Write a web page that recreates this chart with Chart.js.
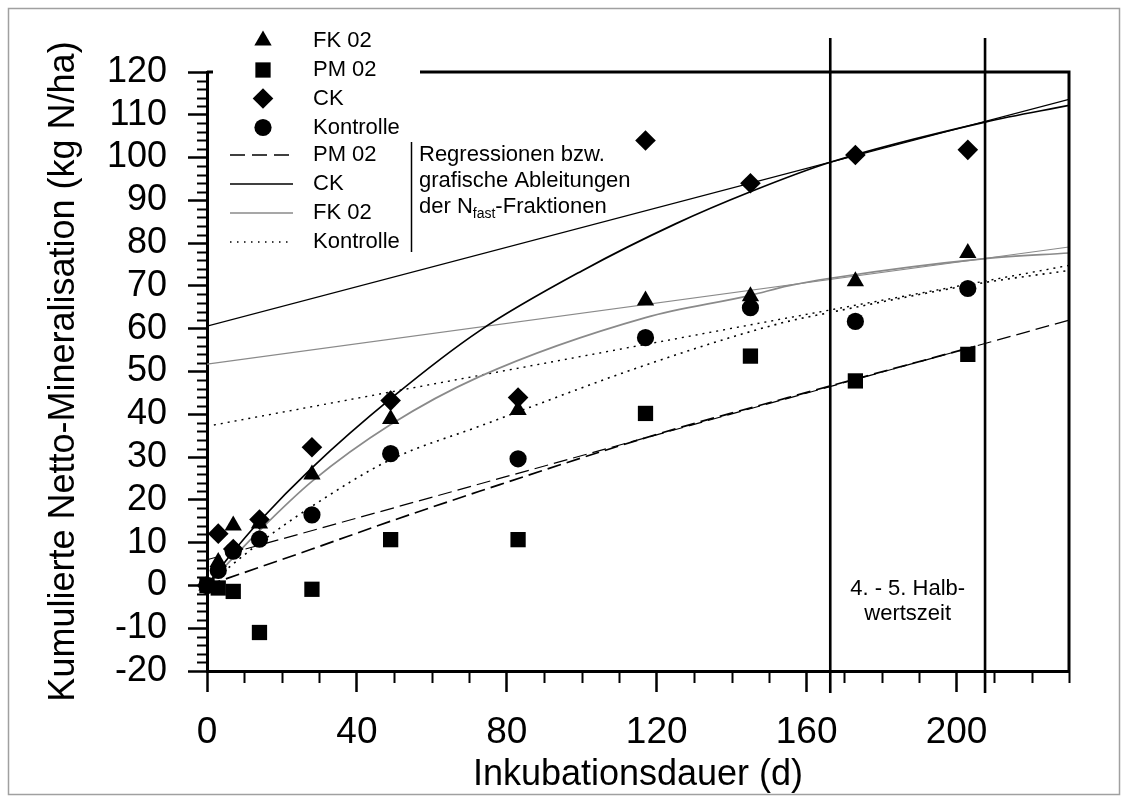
<!DOCTYPE html>
<html><head><meta charset="utf-8">
<script src="https://cdn.jsdelivr.net/npm/chart.js@4.4.1/dist/chart.umd.min.js"></script>
<style>html,body{margin:0;padding:0;background:#fff}canvas{display:block}</style>
</head><body>
<canvas id="c" width="1128" height="803"></canvas>
<script>
// ---- data ----
const days      = [0, 3, 7, 14, 28, 49, 83, 117, 145, 173, 203];
const fk02      = [0, 5.5, 14.0, 14.5, 25.9, 38.9, 41.0, 66.6, 67.6, 71.1, 77.7];
const pm02      = [0, -0.6, -1.4, -11.0, -0.9, 10.7, 10.7, 40.2, 53.6, 47.8, 54.0];
const ck        = [0, 12.1, 8.5, 15.4, 32.3, 43.2, 43.9, 104.0, 94.0, 100.6, 101.8];
const kontrolle = [0, 3.5, 8.0, 10.8, 16.5, 30.8, 29.6, 57.9, 64.9, 61.7, 69.4];

// regression curves
const pmCurveX = [0, 5.6, 28, 49, 72.7, 120, 155, 205];
const pmCurveY = [0, 1.7, 8.5, 15.0, 22.0, 35.3, 43.9, 55.9];
const ckCurveX = [0, 6, 14, 28, 49.5, 72.7, 100, 125, 145, 166.3, 207.6, 230];
const ckCurveY = [0, 6.8, 15.0, 27.5, 44.0, 59.5, 73.5, 84.5, 92.0, 98.9, 108.3, 112.2];
const fkCurveX = [0, 14, 28, 49, 72.7, 117, 145, 155, 166.3, 207.6, 230];
const fkCurveY = [0, 12.8, 24.3, 37.6, 48.8, 62.6, 67.8, 70.0, 71.8, 76.4, 77.7];
const koCurveX = [0, 14, 28, 49, 72.7, 117, 152.7, 166.3, 207.6, 230];
const koCurveY = [0, 9.9, 18.5, 29.4, 37.2, 51.5, 61.2, 63.8, 70.8, 73.6];

// graphical derivation lines (N_fast intercepts)
const lineX   = [0, 230];
const pmLineY = [6.0, 62.0];
const ckLineY = [60.6, 113.6];
const fkLineY = [51.7, 79.1];
const koLineY = [37.2, 74.8];

const halfLifeDays = [166.3, 207.6];
const xTicks = [0, 40, 80, 120, 160, 200];
const yTicks = [-20, -10, 0, 10, 20, 30, 40, 50, 60, 70, 80, 90, 100, 110, 120];
const xMinorStep = 10, yMinorStep = 2;

const FONT = "'Liberation Sans', Arial, Helvetica, sans-serif";
const GRAY = '#8a8a8a';

function pts(xs, ys) { return xs.map((x, i) => ({x: x, y: ys[i]})); }

const markerBase = {showLine: false, backgroundColor: '#000', borderColor: '#000',
  pointBorderWidth: 0, order: 0, clip: false, pointHoverRadius: 0};
const datasets = [
  Object.assign({label: 'CK', data: pts(days, ck), pointStyle: 'rectRot', pointRadius: 10.3}, markerBase),
  Object.assign({label: 'FK 02', data: pts(days, fk02), pointStyle: 'triangle', pointRadius: 10}, markerBase),
  Object.assign({label: 'Kontrolle', data: pts(days, kontrolle), pointStyle: 'circle', pointRadius: 8.6}, markerBase),
  Object.assign({label: 'PM 02', data: pts(days, pm02), pointStyle: 'rect', pointRadius: 10.8}, markerBase),
];
function lineDs(label, xs, ys, color, width, dash, curve) {
  return {label: label, data: pts(xs, ys), showLine: true, pointRadius: 0, pointHoverRadius: 0,
    borderColor: color, backgroundColor: color, borderWidth: width, borderDash: dash,
    cubicInterpolationMode: curve ? 'monotone' : 'default', tension: 0, order: 2, fill: false};
}
datasets.push(
  lineDs('PM 02 Kurve', pmCurveX, pmCurveY, '#000', 1.7, [14, 6], true),
  lineDs('PM 02 Gerade', lineX, pmLineY, '#000', 1.2, [14, 6], false),
  lineDs('CK Kurve', ckCurveX, ckCurveY, '#000', 1.7, [], true),
  lineDs('CK Gerade', lineX, ckLineY, '#000', 1.2, [], false),
  lineDs('FK 02 Kurve', fkCurveX, fkCurveY, GRAY, 1.7, [], true),
  lineDs('FK 02 Gerade', lineX, fkLineY, GRAY, 1.2, [], false),
  lineDs('Kontrolle Kurve', koCurveX, koCurveY, '#000', 1.6, [2, 5], true),
  lineDs('Kontrolle Gerade', lineX, koLineY, '#000', 1.4, [2, 5], false)
);

const deco = {
  id: 'deco',
  beforeDraw(chart) {
    const c = chart.ctx;
    c.save();
    c.fillStyle = '#fff';
    c.fillRect(0, 0, chart.width, chart.height);
    c.strokeStyle = '#a0a0a0';
    c.lineWidth = 1.5;
    c.strokeRect(8.5, 8.5, chart.width - 17, chart.height - 17);
    c.restore();
  },
  afterDraw(chart) {
    const c = chart.ctx, a = chart.chartArea;
    const xs = chart.scales.x, ys = chart.scales.y;
    c.save();
    c.strokeStyle = '#000';
    c.lineCap = 'butt';
    // right axis and partial top frame
    c.lineWidth = 3;
    c.beginPath();
    c.moveTo(a.right, a.top - 1.5); c.lineTo(a.right, a.bottom);
    c.moveTo(420, a.top); c.lineTo(a.right + 1.5, a.top);
    c.moveTo(a.left, a.top); c.lineTo(a.left + 6, a.top);
    c.stroke();
    // minor ticks
    c.lineWidth = 2;
    c.beginPath();
    for (let v = xs.min + xMinorStep; v <= xs.max + 0.001; v += xMinorStep) {
      if (xTicks.indexOf(Math.round(v)) >= 0) continue;
      const px = Math.round(xs.getPixelForValue(v)) + 0.5;
      c.moveTo(px, a.bottom); c.lineTo(px, a.bottom + 12);
    }
    for (let v = ys.min + yMinorStep; v < ys.max; v += yMinorStep) {
      if (yTicks.indexOf(Math.round(v)) >= 0) continue;
      const py = Math.round(ys.getPixelForValue(v)) + 0.5;
      c.moveTo(a.left, py); c.lineTo(a.left - 10, py);
    }
    c.stroke();
    // half-life lines
    c.lineWidth = 2.6;
    c.beginPath();
    halfLifeDays.forEach(d => {
      const px = xs.getPixelForValue(d);
      c.moveTo(px, 38); c.lineTo(px, a.bottom + 22);
    });
    c.stroke();
    const midX = (xs.getPixelForValue(halfLifeDays[0]) + xs.getPixelForValue(halfLifeDays[1])) / 2;
    c.fillStyle = '#000';
    c.font = '22px ' + FONT;
    c.textAlign = 'center';
    c.textBaseline = 'middle';
    c.fillText('4. - 5. Halb-', midX, 589);
    c.fillText('wertszeit', midX, 614);

    // legend
    const H = Chart.helpers;
    const mx = 263, tx = 313;
    const rowsM = [
      {s: 'triangle', r: 10, y: 40.5, t: 'FK 02', ty: 41},
      {s: 'rect', r: 10.8, y: 70, t: 'PM 02', ty: 70},
      {s: 'rectRot', r: 10.3, y: 98.5, t: 'CK', ty: 98.5},
      {s: 'circle', r: 8.6, y: 127.5, t: 'Kontrolle', ty: 127.5}
    ];
    c.textAlign = 'left';
    rowsM.forEach(m => {
      c.fillStyle = '#000';
      H.drawPoint(c, {pointStyle: m.s, radius: m.r, rotation: 0, borderWidth: 0}, mx, m.y);
      c.fillText(m.t, tx, m.ty);
    });
    const rowsL = [
      {t: 'PM 02', y: 155, col: '#000', w: 1.4, dash: [15, 7]},
      {t: 'CK', y: 184, col: '#000', w: 1.4, dash: []},
      {t: 'FK 02', y: 213, col: GRAY, w: 1.4, dash: []},
      {t: 'Kontrolle', y: 242, col: '#000', w: 1.4, dash: [1.5, 5.5]}
    ];
    rowsL.forEach(l => {
      c.save();
      c.strokeStyle = l.col; c.lineWidth = l.w; c.setLineDash(l.dash);
      c.beginPath(); c.moveTo(230, l.y); c.lineTo(293, l.y); c.stroke();
      c.restore();
      c.fillStyle = '#000';
      c.fillText(l.t, tx, l.y);
    });
    // separator + explanation
    c.lineWidth = 1.5;
    c.beginPath(); c.moveTo(411.5, 142); c.lineTo(411.5, 252); c.stroke();
    c.fillText('Regressionen bzw.', 419, 155);
    c.fillText('grafische Ableitungen', 419, 181);
    let x0 = 419;
    c.fillText('der N', x0, 207);
    x0 += c.measureText('der N').width;
    c.font = '14px ' + FONT;
    c.fillText('fast', x0, 214);
    x0 += c.measureText('fast').width;
    c.font = '22px ' + FONT;
    c.fillText('-Fraktionen', x0, 207);
    c.restore();
  }
};

new Chart(document.getElementById('c'), {
  type: 'scatter',
  data: {datasets: datasets},
  options: {
    responsive: false,
    animation: false,
    devicePixelRatio: 1,
    layout: {padding: {top: 72, right: 59, left: 0, bottom: 0}},
    plugins: {legend: {display: false}, tooltip: {enabled: false}},
    events: [],
    scales: {
      x: {
        type: 'linear', min: 0, max: 230,
        afterBuildTicks: s => { s.ticks = xTicks.map(v => ({value: v})); },
        afterFit: s => { s.height = 132; },
        grid: {drawOnChartArea: false, drawTicks: true, tickLength: 21, tickWidth: 2.5, tickColor: '#000'},
        border: {display: true, width: 3, color: '#000'},
        ticks: {font: {family: FONT, size: 37}, color: '#000', padding: 19, maxRotation: 0,
          autoSkip: false, callback: v => String(v)},
        title: {display: true, text: 'Inkubationsdauer (d)', color: '#000',
          font: {family: FONT, size: 36}, padding: {top: 0, bottom: 6}}
      },
      y: {
        type: 'linear', min: -20, max: 120,
        afterBuildTicks: s => { s.ticks = yTicks.map(v => ({value: v})); },
        afterFit: s => { s.width = 207; },
        grid: {drawOnChartArea: false, drawTicks: true, tickLength: 19, tickWidth: 2.5, tickColor: '#000'},
        border: {display: true, width: 3, color: '#000'},
        ticks: {font: {family: FONT, size: 36}, color: '#000', padding: 21, autoSkip: false,
          callback: v => String(v)},
        title: {display: true, text: 'Kumulierte Netto-Mineralisation (kg N/ha)', color: '#000',
          font: {family: FONT, size: 36}, padding: {top: 42, bottom: 0}}
      }
    }
  },
  plugins: [deco]
});
</script>
</body></html>
